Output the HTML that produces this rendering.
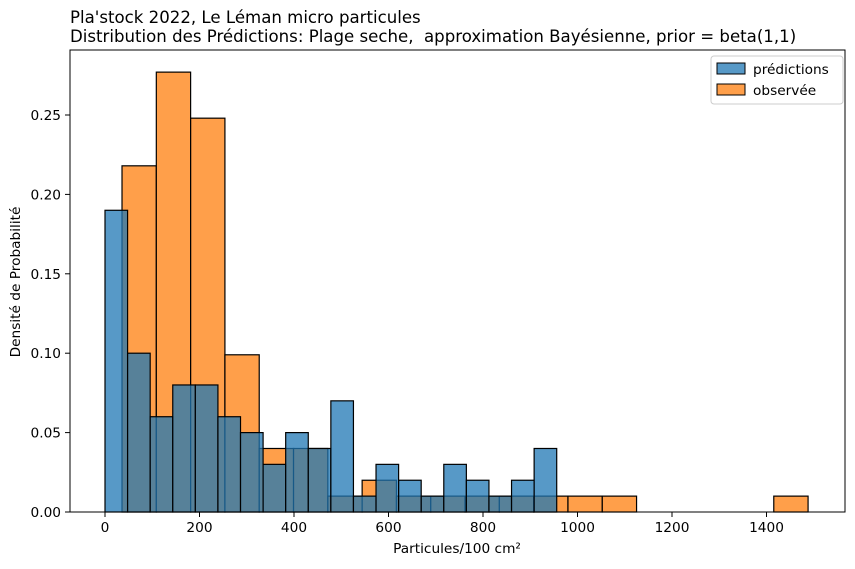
<!DOCTYPE html>
<html><head><meta charset="utf-8"><style>
body{margin:0;background:#fff;font-family:"DejaVu Sans","Liberation Sans",sans-serif}
svg text{font-family:"DejaVu Sans","Liberation Sans",sans-serif}
</style></head><body>
<svg id="c" width="855" height="565" xmlns="http://www.w3.org/2000/svg">
<text x="70" y="23" font-size="16.6">Pla'stock 2022, Le Léman micro particules</text>
<text x="70" y="42" font-size="16.6" xml:space="preserve">Distribution des Prédictions: Plage seche,  approximation Bayésienne, prior = beta(1,1)</text>
<g id="bars"></g>
<rect x="70" y="50" width="775" height="462" fill="none" stroke="#000" stroke-width="1"/>
<g id="ticks"></g>
<text x="457" y="553" font-size="13.7" text-anchor="middle">Particules/100 cm²</text>
<text transform="translate(20,282) rotate(-90)" font-size="13.7" text-anchor="middle">Densité de Probabilité</text>
<g>
<rect x="711" y="56" width="132" height="48" fill="#fff" stroke="#ccc" rx="3"/>
<rect x="717" y="63" width="28" height="11" fill="#1f77b4" fill-opacity="0.75" stroke="#000"/>
<text x="753" y="74" font-size="13.7">prédictions</text>
<rect x="717" y="84" width="28" height="11" fill="#ff7f0e" fill-opacity="0.75" stroke="#000"/>
<text x="753" y="95" font-size="13.7">observée</text>
</g>
</svg>
<script>
const predStart = 0;
const predWidth = 47.8;
const predValues = [0.19,0.10,0.06,0.08,0.08,0.06,0.05,0.03,0.05,0.04,0.07,0.01,0.03,0.02,0.01,0.03,0.02,0.01,0.02,0.04];
const obsStart = 36;
const obsWidth = 72.6;
const obsValues = [0.218,0.277,0.248,0.099,0.04,0.04,0.01,0.02,0.01,0.01,0.01,0.01,0.01,0.01,0.01,0,0,0,0,0.01];
const xTicks = [0,200,400,600,800,1000,1200,1400];
const yTicks = [0,0.05,0.10,0.15,0.20,0.25];
const yTickLabels = ["0.00","0.05","0.10","0.15","0.20","0.25"];

const X = v => 105 + v*0.4725;
const Y = v => 512 - v*1588;
const NS = "http://www.w3.org/2000/svg";
const bars = document.getElementById('bars');
const ticks = document.getElementById('ticks');
function bar(x0,x1,v,fill,name){
  if(v<=0) return;
  const r = document.createElementNS(NS,'rect');
  r.setAttribute('x',X(x0)); r.setAttribute('width',X(x1)-X(x0));
  r.setAttribute('y',Y(v)); r.setAttribute('height',Y(0)-Y(v));
  r.setAttribute('fill',fill); r.setAttribute('fill-opacity','0.75');
  r.setAttribute('stroke','#000'); r.setAttribute('stroke-width','1.2');
  
  
  bars.appendChild(r);
}
obsValues.forEach((v,i)=>bar(obsStart+i*obsWidth,obsStart+(i+1)*obsWidth,v,'#ff7f0e','bar-observee'));
predValues.forEach((v,i)=>bar(predStart+i*predWidth,predStart+(i+1)*predWidth,v,'#1f77b4','bar-prediction'));
xTicks.forEach(t=>{
  const l=document.createElementNS(NS,'line');
  l.setAttribute('x1',X(t));l.setAttribute('x2',X(t));l.setAttribute('y1',512);l.setAttribute('y2',517);l.setAttribute('stroke','#000');
  
  
  ticks.appendChild(l);
  const tx=document.createElementNS(NS,'text');
  tx.setAttribute('x',X(t));tx.setAttribute('y',532);tx.setAttribute('font-size','13.7');tx.setAttribute('text-anchor','middle');
  tx.textContent=t;
  
  
  ticks.appendChild(tx);
});
yTicks.forEach((t,i)=>{
  const l=document.createElementNS(NS,'line');
  l.setAttribute('x1',65);l.setAttribute('x2',70);l.setAttribute('y1',Y(t));l.setAttribute('y2',Y(t));l.setAttribute('stroke','#000');
  
  
  ticks.appendChild(l);
  const tx=document.createElementNS(NS,'text');
  tx.setAttribute('x',61);tx.setAttribute('y',Y(t)+5);tx.setAttribute('font-size','13.7');tx.setAttribute('text-anchor','end');
  tx.textContent=yTickLabels[i];
  
  
  ticks.appendChild(tx);
});
</script>
</body></html>
